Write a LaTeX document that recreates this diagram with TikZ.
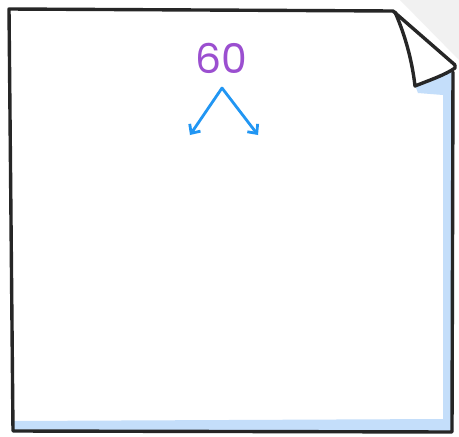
\documentclass[tikz,border=0pt]{standalone}
\usepackage{fontspec}
\setmainfont{Poppins}
\usetikzlibrary{arrows.meta}
\definecolor{paperblue}{HTML}{C4DEFA}
\definecolor{numpurple}{HTML}{9B4FD0}
\definecolor{arrowblue}{HTML}{2196F3}
\definecolor{bggray}{HTML}{F1F1F1}
\tikzset{
  outline/.style={draw=black!85, line width=3.4pt, line join=round, line cap=round},
  splitarrow/.style={draw=arrowblue, line width=2.8pt, line cap=round, -{Straight Barb[length=7pt,width=13pt,line width=2.8pt]}},
}
\begin{document}
\begin{tikzpicture}[x=1pt,y=-1pt]
\useasboundingbox (0,0) rectangle (459,437);
\fill[white] (0,0) rectangle (459,437);
% gray background beyond fold
\fill[bggray] (400,0) -- (459,0) -- (459,60) -- cycle;
% blue shading
\fill[paperblue] (13,421) -- (443,419) -- (443,95) -- (418,93) -- (415,85) -- (454,70) -- (453,432) -- (13,432) -- cycle;
% paper outline
\draw[outline] (453,72) -- (452,432) -- (13,431) -- (9,9) -- (393,11) -- (455,65);
% fold
\draw[outline] (395,12) .. controls (405,35) and (412,60) .. (415,86) .. controls (430,80) and (445,75) .. (455,68) -- (455,65);
% content
\node[text=numpurple, font=\fontsize{41}{41}\selectfont] (n) at (221,58) {60};
\coordinate (apex) at (222,88);
\coordinate (l) at (190,135);
\coordinate (r) at (258,135);
\draw[splitarrow] (apex) -- (l);
\draw[splitarrow] (apex) -- (r);
\end{tikzpicture}
\end{document}
